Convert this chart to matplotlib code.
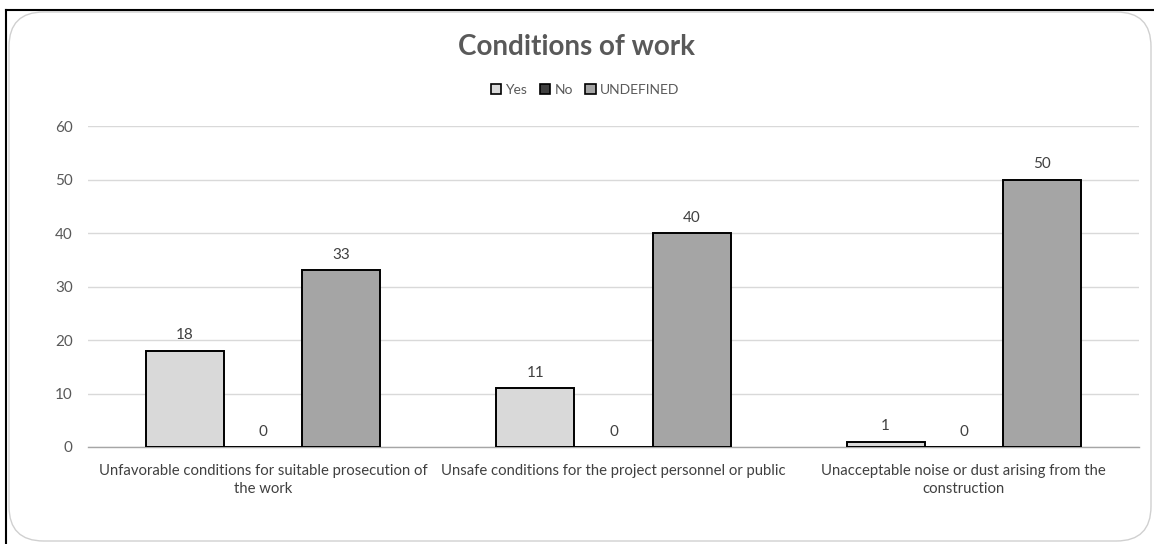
import matplotlib
matplotlib.use("Agg")
import matplotlib.pyplot as plt
import numpy as np
from matplotlib.patches import FancyBboxPatch, Patch
from matplotlib.lines import Line2D

plt.rcParams['font.family'] = ['Lato', 'DejaVu Sans']

categories = [
    "Unfavorable conditions for suitable prosecution of\nthe work",
    "Unsafe conditions for the project personnel or public",
    "Unacceptable noise or dust arising from the\nconstruction",
]
series_names = ["Yes", "No", "UNDEFINED"]
yes_values = [18, 11, 1]
no_values = [0, 0, 0]
undefined_values = [33, 40, 50]
y_ticks = [0, 10, 20, 30, 40, 50, 60]

colors = ["#D9D9D9", "#404040", "#A5A5A5"]
text_color = "#595959"

W, H = 1154, 544
fig = plt.figure(figsize=(W / 100, H / 100), dpi=100)

# chart frame: rounded light border inside a dark edge on top/left
frame = FancyBboxPatch((9 / W, 3 / H), (W - 12) / W, (H - 15) / H,
                       boxstyle="round,pad=0,rounding_size=0.03",
                       transform=fig.transFigure, facecolor="white",
                       edgecolor="#D0D0D0", linewidth=1.0, zorder=-10,
                       mutation_aspect=W / H)
fig.patches.append(frame)
fig.add_artist(Line2D([6 / W, 6 / W], [0, 1 - 10 / H], transform=fig.transFigure,
                      color="black", linewidth=1.5))
fig.add_artist(Line2D([6 / W, 1], [1 - 10 / H, 1 - 10 / H], transform=fig.transFigure,
                      color="black", linewidth=1.5))

left, right = 88 / W, 1139 / W
bottom, top = 1 - 447 / H, 1 - 126 / H
ax = fig.add_axes([left, bottom, right - left, top - bottom])
ax.set_facecolor("none")
ax.set_zorder(1)

x = np.arange(len(categories))
bar_w = 0.223
series = [yes_values, no_values, undefined_values]
for i, (name, vals, c) in enumerate(zip(series_names, series, colors)):
    pos = x + (i - 1) * bar_w
    ax.bar(pos, vals, width=bar_w, color=c, edgecolor="black", linewidth=1.4,
           label=name, zorder=3)
    for px, v in zip(pos, vals):
        ax.annotate(str(v), (px, v), xytext=(0, 6), textcoords="offset points",
                    ha="center", va="bottom", fontsize=11, color="#404040")

ax.set_xlim(-0.5, len(categories) - 0.5)
ax.set_ylim(0, 60)
ax.set_yticks(y_ticks)
ax.set_yticklabels([str(t) for t in y_ticks], fontsize=11, color=text_color)
ax.set_xticks(x)
ax.set_xticklabels(categories, fontsize=10.7, color="#404040", linespacing=1.35)
ax.tick_params(axis="both", length=0)
ax.tick_params(axis="y", pad=11)
ax.tick_params(axis="x", pad=12)
ax.grid(axis="y", color="#D9D9D9", linewidth=1.0, zorder=0)
ax.set_axisbelow(True)
for s in ["left", "right", "top"]:
    ax.spines[s].set_visible(False)
ax.spines["bottom"].set_color("#A6A6A6")
ax.spines["bottom"].set_linewidth(1.0)

fig.text(0.5, 1 - 47 / H, "Conditions of work", ha="center", va="center",
         fontsize=20, fontweight="bold", color=text_color)

handles = [Patch(facecolor=c, edgecolor="black", linewidth=1.2) for c in colors]
fig.legend(handles, series_names, loc="center", bbox_to_anchor=(0.507, 1 - 90 / H),
           ncol=3, frameon=False, fontsize=10, handlelength=0.75, handleheight=0.75,
           handletextpad=0.3, columnspacing=0.9, labelcolor=text_color)

fig.savefig("out.png", dpi=100)
